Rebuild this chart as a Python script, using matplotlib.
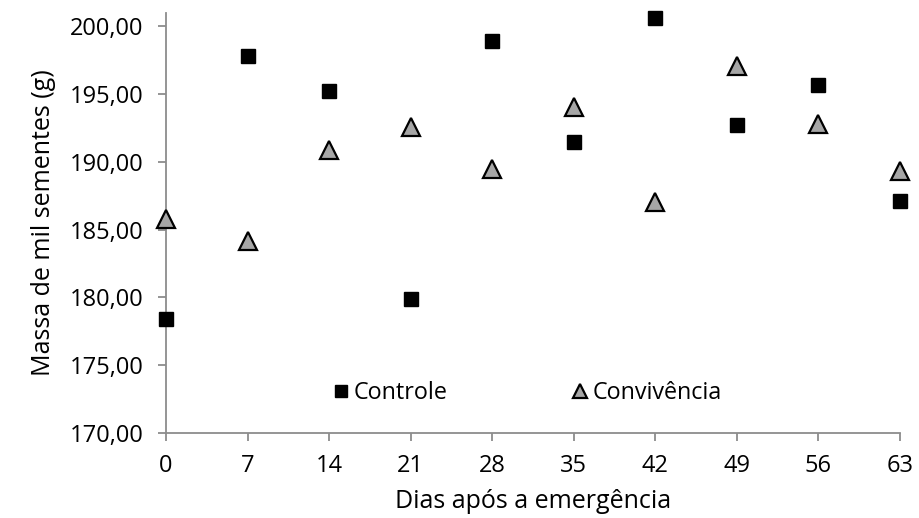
import matplotlib
matplotlib.use("Agg")
import matplotlib.pyplot as plt
from matplotlib.ticker import FuncFormatter

# data
dias = [0, 7, 14, 21, 28, 35, 42, 49, 56, 63]
controle = [178.4, 197.85, 195.25, 179.9, 198.95, 191.5, 200.65, 192.75, 195.7, 187.15]
convivencia = [185.8, 184.2, 190.9, 192.6, 189.5, 194.05, 187.05, 197.05, 192.8, 189.35]
y_ticks = [170, 175, 180, 185, 190, 195, 200]

AXIS_GRAY = "#8c8c8c"

plt.rcParams["font.family"] = ["Open Sans", "DejaVu Sans"]

fig = plt.figure(figsize=(9.19, 5.18), dpi=100)
ax = fig.add_axes([0.1806, 0.1641, 0.7987, 0.8109])

ax.plot(dias, controle, linestyle="none", marker="s", markersize=10,
        color="black", label="Controle")
ax.plot(dias, convivencia, linestyle="none", marker="^", markersize=12.5,
        markerfacecolor="#a6a6a6", markeredgecolor="black",
        markeredgewidth=1.6, label="Convivência")

ax.set_xlim(0, 63)
ax.set_ylim(170, 201)
ax.set_xticks(dias)
ax.set_yticks(y_ticks)
ax.yaxis.set_major_formatter(FuncFormatter(lambda v, p: f"{v:.2f}".replace(".", ",")))

for side in ("top", "right"):
    ax.spines[side].set_visible(False)
for side in ("left", "bottom"):
    ax.spines[side].set_color(AXIS_GRAY)
    ax.spines[side].set_linewidth(1.3)
ax.spines["left"].set_zorder(0)

ax.tick_params(axis="both", direction="out", length=6, width=1.3,
               color=AXIS_GRAY, labelsize=17, labelcolor="black")
ax.tick_params(axis="y", pad=10)
ax.tick_params(axis="x", pad=9)

ax.set_xlabel("Dias após a emergência", fontsize=18, labelpad=8)
ax.set_ylabel("Massa de mil sementes (g)", fontsize=18, labelpad=10)

leg = ax.legend(loc="center", bbox_to_anchor=(0.49, 0.095), ncol=2,
                frameon=False, fontsize=16.8, handletextpad=0.05,
                columnspacing=5.2, markerscale=0.85, handlelength=1.0)

for ln in ax.lines:
    ln.set_clip_on(False)

fig.savefig("out.png", dpi=100, facecolor="white")
